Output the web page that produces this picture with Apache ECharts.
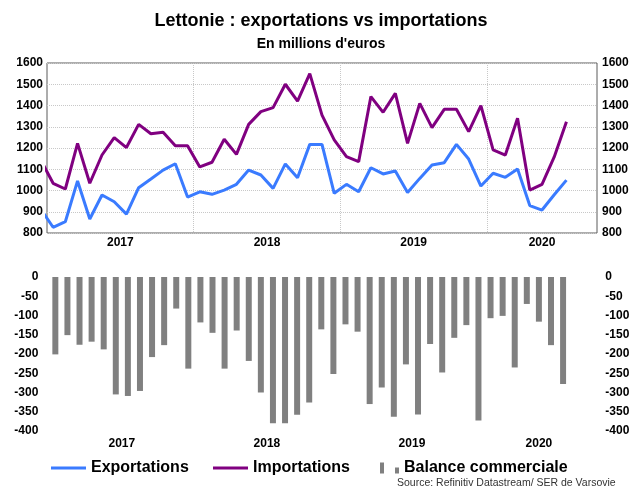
<!DOCTYPE html>
<html><head><meta charset="utf-8">
<script src="https://cdn.jsdelivr.net/npm/echarts@6/dist/echarts.min.js"></script>
<style>html,body{margin:0;padding:0;background:#fff}#c{width:630px;height:488px}</style>
</head><body><div id="c"></div>
<script>
// Month categories: Dec 2016 (clipped lead-in) to Sep 2020 (end of axis)
const months = [];
(function(){ let y = 2016, m = 12; while (!(y === 2020 && m === 10)) { months.push(y + '-' + String(m).padStart(2,'0')); m++; if (m > 12) { m = 1; y++; } } })();

// Dec 2016 .. Jul 2020
const exportations = [911,
  827, 853, 1045, 866, 979, 947, 889, 1013, 1054, 1096, 1126, 969,
  994, 982, 1002, 1029, 1096, 1073, 1010, 1125, 1060, 1217, 1217, 987,
  1029, 994, 1107, 1078, 1092, 991, 1057, 1120, 1131, 1217, 1148, 1021,
  1081, 1062, 1101, 929, 908, 980, 1049];
const importations = [1142,
  1034, 1007, 1222, 1034, 1167, 1249, 1202, 1311, 1267, 1274, 1211, 1211,
  1111, 1133, 1241, 1170, 1311, 1371, 1390, 1500, 1421, 1550, 1355, 1238,
  1159, 1136, 1442, 1368, 1457, 1222, 1410, 1296, 1382, 1382, 1277, 1399,
  1191, 1167, 1340, 1002, 1029, 1158, 1324];
// Balance commerciale, Dec 2016 (not shown) .. Jul 2020
const balance = [null,
  -201, -151, -176, -168, -188, -305, -309, -296, -208, -177, -82, -238,
  -118, -145, -238, -139, -218, -300, -380, -380, -358, -326, -136, -252,
  -123, -142, -330, -287, -363, -227, -357, -174, -248, -158, -125, -373,
  -107, -101, -235, -70, -116, -177, -278];
const yearLabels = ['2017', '2018', '2019', '2020'];
const topTicks = [800, 1600, 100];
const bottomTicks = [-400, 0, 50];

const axisFirst = 1, axisLast = months.length - 1;
const yearPos = yearLabels.map(y => {
  const idx = months.map((m, i) => [m, i]).filter(p => p[0].startsWith(y) && p[1] >= axisFirst && p[1] <= axisLast).map(p => p[1]);
  return (idx[0] + idx[idx.length - 1]) / 2;
});
const boundaries = months.map((m, i) => (m.endsWith('-01') && i > axisFirst) ? i - 0.5 : null).filter(v => v !== null);
const yearFmt = v => { let best = 0; yearPos.forEach((p, k) => { if (Math.abs(p - v) < Math.abs(yearPos[best] - v)) best = k; }); return yearLabels[best]; };
const numFmt = v => String(v);

const font = '"Liberation Sans", Arial, sans-serif';
const lab = { fontFamily: font, fontSize: 12, fontWeight: 'bold', color: '#000' };
const grid0 = { left: 47, top: 63, width: 550, height: 170 };
const grid1 = { left: 49.3, top: 277, width: 544, height: 154 };

const chart = echarts.init(document.getElementById('c'), null, { renderer: 'canvas' });
chart.setOption({
  animation: false,
  backgroundColor: '#fff',
  graphic: [
    { type: 'text', x: 321, y: 21, style: { text: 'Lettonie : exportations vs importations', font: 'bold 18px ' + font, fill: '#000', textAlign: 'center', textVerticalAlign: 'middle' } },
    { type: 'text', x: 321, y: 44.5, style: { text: "En millions d'euros", font: 'bold 14px ' + font, fill: '#000', textAlign: 'center', textVerticalAlign: 'middle' } },
    { type: 'text', x: 397, y: 483, style: { text: 'Source: Refinitiv Datastream/ SER de Varsovie', font: '10.5px ' + font, fill: '#333', textAlign: 'left', textVerticalAlign: 'middle' } }
  ],
  legend: [
    { data: ['Exportations'], left: 51, top: 460, padding: 0, icon: 'rect', itemWidth: 35, itemHeight: 3,
      textStyle: { fontFamily: font, fontSize: 16, fontWeight: 'bold', color: '#000' } },
    { data: ['Importations'], left: 213, top: 460, padding: 0, icon: 'rect', itemWidth: 35, itemHeight: 3,
      textStyle: { fontFamily: font, fontSize: 16, fontWeight: 'bold', color: '#000' } },
    { data: ['Balance commerciale'], left: 380, top: 460, padding: 0, icon: 'path://M0,0h4v11h-4z M15,5h4v6h-4z', itemWidth: 19, itemHeight: 11,
      textStyle: { fontFamily: font, fontSize: 16, fontWeight: 'bold', color: '#000' } }
  ],
  grid: [
    Object.assign({ show: true, borderColor: '#5a5a5a', borderWidth: 1, backgroundColor: 'transparent', outerBoundsMode: 'none', containLabel: false }, grid0),
    Object.assign({ show: false, outerBoundsMode: 'none', containLabel: false }, grid1)
  ],
  xAxis: [
    { type: 'value', gridIndex: 0, min: axisFirst - 0.5, max: axisLast + 0.5,
      axisLine: { show: false, onZero: false }, axisTick: { show: false, customValues: boundaries },
      axisLabel: Object.assign({ margin: 4, customValues: yearPos, formatter: yearFmt }, lab),
      splitLine: { show: true, lineStyle: { color: '#c8c8c8', type: 'dotted', width: 1 } } },
    { type: 'value', gridIndex: 1, min: axisFirst - 0.5, max: axisLast + 0.5,
      axisLine: { show: false, onZero: false }, axisTick: { show: false },
      axisLabel: Object.assign({ margin: 7, customValues: yearPos, formatter: yearFmt }, lab),
      splitLine: { show: false } }
  ],
  yAxis: [
    { type: 'value', gridIndex: 0, position: 'left', min: topTicks[0], max: topTicks[1], interval: topTicks[2],
      axisLine: { show: false }, axisTick: { show: false }, axisLabel: Object.assign({ margin: 4, formatter: numFmt }, lab),
      splitLine: { show: true, lineStyle: { color: '#c8c8c8', type: 'dotted', width: 1 } } },
    { type: 'value', gridIndex: 0, position: 'right', min: topTicks[0], max: topTicks[1], interval: topTicks[2],
      axisLine: { show: false }, axisTick: { show: false }, axisLabel: Object.assign({ margin: 5, formatter: numFmt }, lab),
      splitLine: { show: false } },
    { type: 'value', gridIndex: 1, position: 'left', min: bottomTicks[0], max: bottomTicks[1], interval: bottomTicks[2],
      axisLine: { show: false }, axisTick: { show: false }, axisLabel: Object.assign({ margin: 11, formatter: numFmt }, lab),
      splitLine: { show: false } },
    { type: 'value', gridIndex: 1, position: 'right', min: bottomTicks[0], max: bottomTicks[1], interval: bottomTicks[2],
      axisLine: { show: false }, axisTick: { show: false }, axisLabel: Object.assign({ margin: 12, formatter: numFmt }, lab),
      splitLine: { show: false } }
  ],
  series: [
    { name: 'Exportations', type: 'line', xAxisIndex: 0, yAxisIndex: 0, clip: true,
      data: exportations.map((v, i) => [i, v]), symbol: 'none', showSymbol: false,
      lineStyle: { width: 3, color: '#3a7bff' }, itemStyle: { color: '#3a7bff' } },
    { name: 'Importations', type: 'line', xAxisIndex: 0, yAxisIndex: 0, clip: true,
      data: importations.map((v, i) => [i, v]), symbol: 'none', showSymbol: false,
      lineStyle: { width: 3, color: '#800080' }, itemStyle: { color: '#800080' } },
    { name: 'Balance commerciale', type: 'bar', xAxisIndex: 1, yAxisIndex: 2, clip: true,
      data: balance.map((v, i) => [i, v]).filter(p => p[1] !== null), barWidth: 6,
      itemStyle: { color: '#808080' } }
  ]
});
</script></body></html>
